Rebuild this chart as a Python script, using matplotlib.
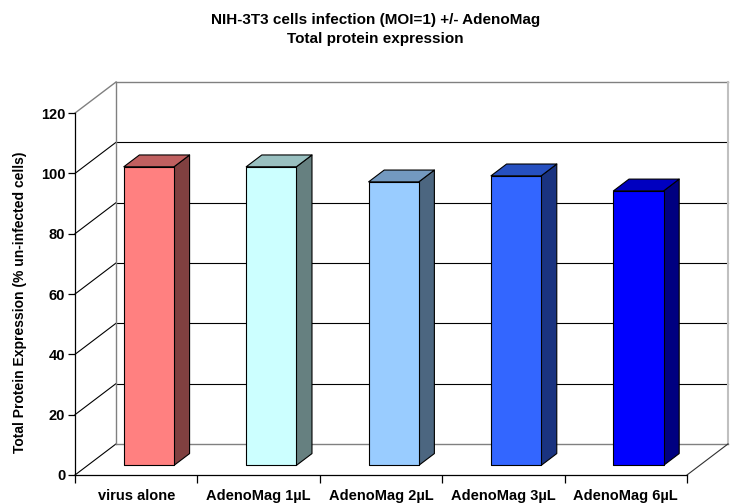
import matplotlib
matplotlib.use("Agg")
import matplotlib.pyplot as plt
from matplotlib.patches import Polygon

# protein expression, % of un-infected cells
categories = ['virus alone', 'AdenoMag 1µL', 'AdenoMag 2µL', 'AdenoMag 3µL', 'AdenoMag 6µL']
values = [99, 99, 94, 96, 91]
yticks = [0, 20, 40, 60, 80, 100, 120]

front_colors = ['#FF8080', '#CCFFFF', '#99CCFF', '#3366FF', '#0000FF']
side_colors = ['#804040', '#668080', '#4C6680', '#1A3380', '#000080']
top_colors = ['#C06060', '#99C0C0', '#7399C0', '#2650C0', '#0000C0']

plt.rcParams['font.family'] = ['Liberation Sans', 'DejaVu Sans']

# oblique depth offset of the back wall, in data units
DX = 0.335
DY = 10.3
bar_w = 0.41
f0, f1 = 0.31, 0.69   # bar front / back as a fraction of the depth
ymax = yticks[-1]
n = len(categories)

fig = plt.figure(figsize=(7.33, 5.04), dpi=100)
ax = fig.add_axes([75 / 733, 29 / 504, 653 / 733, 393 / 504])
ax.set_xlim(0, n + DX)
ax.set_ylim(0, ymax + DY)

grid_kw = dict(color='black', lw=0.8, clip_on=False, zorder=1)
edge_kw = dict(color='#808080', lw=1.0, clip_on=False, zorder=1)

# back wall gridlines and left wall diagonals
for t in yticks:
    if 0 < t < ymax:
        ax.plot([DX, n + DX], [t + DY, t + DY], **grid_kw)
    if t < ymax:
        ax.plot([0, DX], [t, t + DY], **grid_kw)
    else:
        ax.plot([0, DX], [t, t + DY], **edge_kw)

# wall and floor borders
ax.plot([DX, n + DX], [ymax + DY, ymax + DY], **edge_kw)
ax.plot([DX, DX], [DY, ymax + DY], **edge_kw)
ax.plot([n + DX, n + DX], [DY, ymax + DY], color='#C0C0C0', lw=1.5, clip_on=False, zorder=1)
ax.plot([DX, n + DX], [DY, DY], **edge_kw)
ax.plot([n, n + DX], [0, DY], color='#303030', lw=0.8, clip_on=False, zorder=1)

# 3D-style bars
for i, v in enumerate(values):
    x0 = i + 0.5 - bar_w / 2
    x1 = i + 0.5 + bar_w / 2
    ax0, ay0 = f0 * DX, f0 * DY
    ax1, ay1 = f1 * DX, f1 * DY
    front = [(x0 + ax0, ay0), (x1 + ax0, ay0), (x1 + ax0, v + ay0), (x0 + ax0, v + ay0)]
    side = [(x1 + ax0, ay0), (x1 + ax1, ay1), (x1 + ax1, v + ay1), (x1 + ax0, v + ay0)]
    top = [(x0 + ax0, v + ay0), (x1 + ax0, v + ay0), (x1 + ax1, v + ay1), (x0 + ax1, v + ay1)]
    for pts, c in [(side, side_colors[i]), (top, top_colors[i]), (front, front_colors[i])]:
        ax.add_patch(Polygon(pts, closed=True, facecolor=c, edgecolor='black',
                             lw=0.8, joinstyle='round', zorder=3))

for s in ['top', 'right']:
    ax.spines[s].set_visible(False)
ax.spines['left'].set_bounds(0, ymax)
ax.spines['bottom'].set_bounds(0, n)
ax.spines['left'].set_linewidth(0.9)
ax.spines['bottom'].set_linewidth(0.9)

ax.set_yticks(yticks)
ax.set_yticklabels([str(t) for t in yticks], fontsize=10.5, fontweight='bold')
ax.tick_params(axis='y', length=5, width=0.9, pad=2)

ax.set_xticks(range(n + 1))
ax.set_xticklabels([])
ax.tick_params(axis='x', which='major', length=6, width=0.9)
ax.set_xticks([i + 0.5 for i in range(n)], minor=True)
ax.set_xticklabels(categories, minor=True, fontsize=10.5, fontweight='bold')
ax.tick_params(axis='x', which='minor', length=0, pad=10)

ax.set_ylabel('Total Protein Expression (% un-infected cells)', fontsize=10,
              fontweight='bold')
ax.yaxis.set_label_coords(-0.0735, 0.44)

fig.text(0.512, 0.975, 'NIH-3T3 cells infection (MOI=1) +/- AdenoMag\nTotal protein expression',
         ha='center', va='top', fontsize=11, fontweight='bold', linespacing=1.45)

fig.savefig('out.png', dpi=100)
